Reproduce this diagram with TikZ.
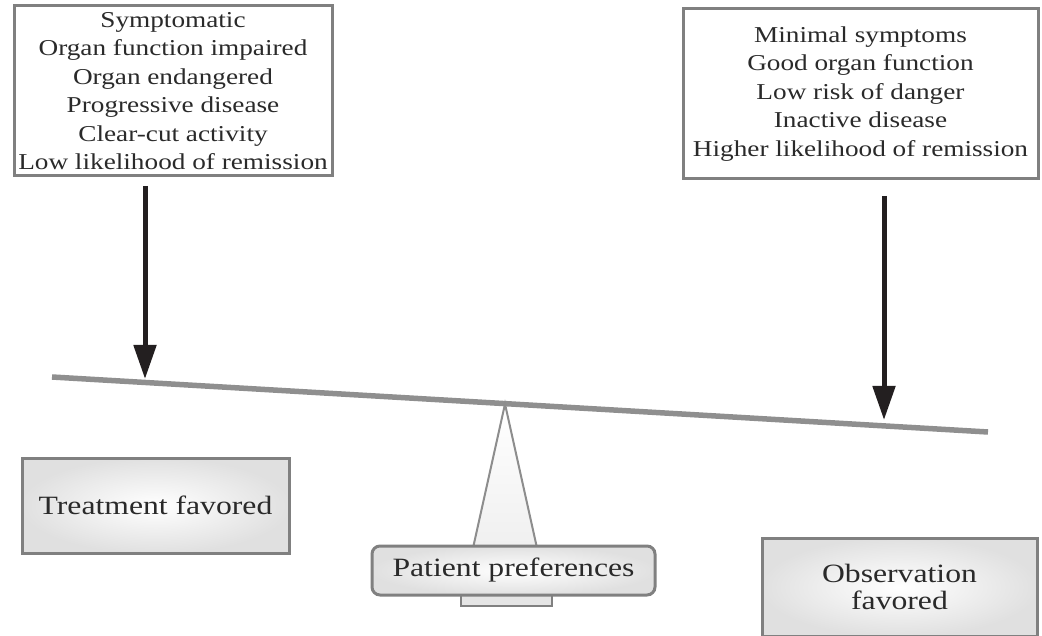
\documentclass[tikz,border=0pt]{standalone}
\usepackage{fontspec}
\setmainfont{Liberation Serif}[FakeStretch=1.2]
\usetikzlibrary{arrows.meta}
\definecolor{bordergray}{HTML}{808080}
\definecolor{beamgray}{HTML}{8F8F8F}
\definecolor{arrowblack}{HTML}{231F20}
\definecolor{textblack}{HTML}{2A2A2A}
\tikzset{
  topbox/.style={draw=bordergray, line width=3pt, fill=white, align=center,
    text=textblack, inner sep=0pt, font=\fontsize{22.7}{28.5}\selectfont},
  resultbox/.style={draw=bordergray, line width=3pt, inner color=white, outer color=black!12,
    align=center, text=textblack, inner sep=0pt, font=\fontsize{26.4}{27}\selectfont},
  weight/.style={draw=arrowblack, line width=5pt, -{Triangle[width=22pt,length=34pt]}},
  beam/.style={draw=beamgray, line width=5.5pt},
}
\begin{document}
\begin{tikzpicture}[x=1pt,y=-1pt]
\useasboundingbox (0,0) rectangle (1042,636);
\clip (0,0) rectangle (1042,636);

% criteria boxes
\node[topbox, minimum width=318pt, minimum height=170pt] (left) at (173,91)
  {Symptomatic\\Organ function impaired\\Organ endangered\\Progressive disease\\Clear-cut activity\\Low likelihood of remission};
\node[topbox, minimum width=355pt, minimum height=170pt] (right) at (860.5,94)
  {Minimal symptoms\\Good organ function\\Low risk of danger\\Inactive disease\\Higher likelihood of remission};

% beam
\coordinate (beamL) at (52,377);
\coordinate (beamR) at (988,432);
\draw[beam] (beamL) -- (beamR);

% fulcrum
\coordinate (apex) at (505,404);
\coordinate (baseL) at (473,548);
\coordinate (baseR) at (537,548);
\path[draw=bordergray!90, line width=2pt, top color=white, bottom color=black!6] (apex) -- (baseR) -- (baseL) -- cycle;

% base plate
\node[draw=bordergray, line width=2pt, fill=black!10, minimum width=91pt, minimum height=12pt, inner sep=0pt] (plate) at (506.5,600) {};

% patient preferences
\node[resultbox, rounded corners=8pt, minimum width=283pt, minimum height=49pt] (patient) at (513.5,570.5) {Patient preferences};

% outcome boxes
\node[resultbox, minimum width=267pt, minimum height=95pt] (treat) at (155.5,505.5) {Treatment favored};
\node[resultbox, minimum width=275pt, minimum height=98pt] (obs) at (899.5,587) {Observation\\favored};

% weights
\coordinate (wLtop) at (145,186);
\coordinate (wLtip) at (145,379);
\coordinate (wRtop) at (884,196);
\coordinate (wRtip) at (884,420);
\draw[weight] (wLtop) -- (wLtip);
\draw[weight] (wRtop) -- (wRtip);
\end{tikzpicture}
\end{document}
